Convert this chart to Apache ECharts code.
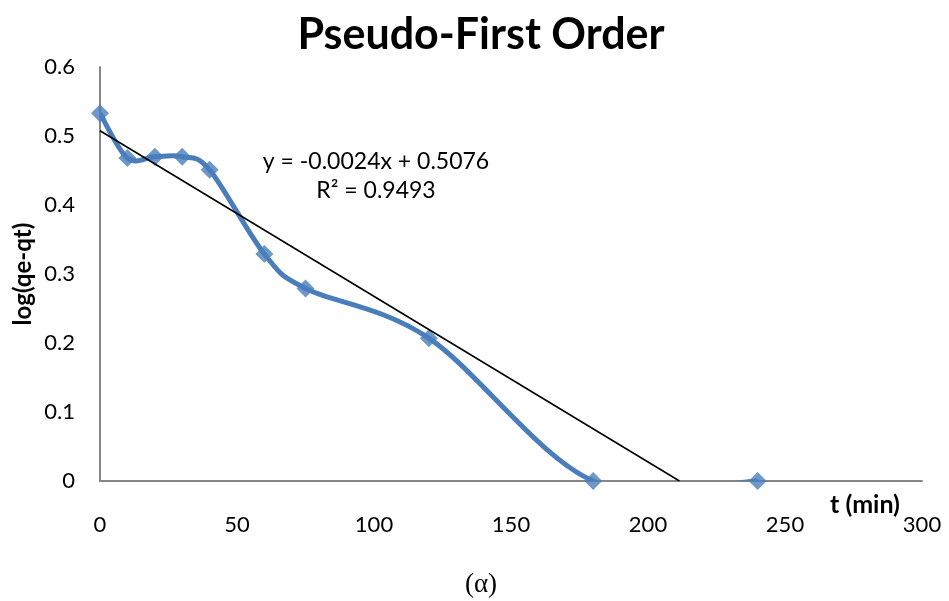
<!DOCTYPE html>
<html>
<head>
<meta charset="utf-8">
<script src="https://cdn.jsdelivr.net/npm/echarts@6/dist/echarts.min.js"></script>
<style>
  html, body { margin: 0; padding: 0; background: #fff; }
  #chart { width: 949px; height: 601px; }
</style>
</head>
<body>
<div id="chart"></div>
<script>
// Kinetic data: time (min) vs log(qe - qt)
const timeMin = [0, 10, 20, 30, 40, 60, 75, 120, 180, 240];
const logQeQt = [0.533, 0.468, 0.470, 0.470, 0.451, 0.329, 0.279, 0.207, 0, 0];

// Linear fit of the data
const fitSlope = -0.0024;
const fitIntercept = 0.5076;
const fitR2 = 0.9493;

// Axis tick values
const xTicks = [0, 50, 100, 150, 200, 250, 300];
const yTicks = [0, 0.1, 0.2, 0.3, 0.4, 0.5, 0.6];

const pointData = timeMin.map((t, i) => [t, logQeQt[i]]);
// Fit line runs from t = 0 to where it crosses zero
const fitEnd = -fitIntercept / fitSlope;
const fitData = [[0, fitIntercept], [fitEnd, fitSlope * fitEnd + fitIntercept]];

const font = 'Lato, "Open Sans", sans-serif';
const blue = '#4A7EBB';

// Smoothed curve through the data: Catmull-Rom spline turned into cubic
// Bezier segments, computed in pixel space from the axis-mapped points.
function renderSmoothCurve(params, api) {
  if (params.dataIndex !== 0) return null;
  const pts = pointData.map(p => api.coord(p));
  const n = pts.length;
  let d = 'M' + pts[0][0] + ' ' + pts[0][1];
  for (let i = 0; i < n - 1; i++) {
    const p0 = pts[Math.max(i - 1, 0)];
    const p1 = pts[i];
    const p2 = pts[i + 1];
    const p3 = pts[Math.min(i + 2, n - 1)];
    const c1x = p1[0] + (p2[0] - p0[0]) / 6;
    const c1y = p1[1] + (p2[1] - p0[1]) / 6;
    const c2x = p2[0] - (p3[0] - p1[0]) / 6;
    const c2y = p2[1] - (p3[1] - p1[1]) / 6;
    d += ' C' + c1x + ' ' + c1y + ' ' + c2x + ' ' + c2y + ' ' + p2[0] + ' ' + p2[1];
  }
  return {
    type: 'path',
    shape: { pathData: d },
    style: { fill: null, stroke: blue, lineWidth: 5, lineJoin: 'round', lineCap: 'butt' }
  };
}

const chart = echarts.init(document.getElementById('chart'), null, { renderer: 'canvas' });

chart.setOption({
  backgroundColor: '#ffffff',
  animation: false,
  grid: { left: 100, right: 27, top: 67, bottom: 120 },
  xAxis: {
    type: 'value',
    min: xTicks[0],
    max: xTicks[xTicks.length - 1],
    interval: 50,
    axisLine: { show: true, lineStyle: { color: '#868686', width: 2 } },
    axisTick: { show: false },
    splitLine: { show: false },
    axisLabel: { margin: 33, fontFamily: font, fontSize: 22, color: '#000' }
  },
  yAxis: {
    type: 'value',
    min: yTicks[0],
    max: yTicks[yTicks.length - 1],
    interval: 0.1,
    axisLine: { show: true, lineStyle: { color: '#868686', width: 2 } },
    axisTick: { show: false },
    splitLine: { show: false },
    axisLabel: { margin: 25, fontFamily: font, fontSize: 22, color: '#000' }
  },
  graphic: [
    {
      type: 'text',
      x: 481, y: 35,
      style: {
        text: 'Pseudo-First Order',
        font: 'bold 43px ' + font, fill: '#000', align: 'center', verticalAlign: 'middle'
      }
    },
    {
      type: 'text',
      x: 23, y: 274, rotation: Math.PI / 2,
      style: {
        text: 'log(qe-qt)',
        font: 'bold 24px ' + font, fill: '#000', align: 'center', verticalAlign: 'middle'
      }
    },
    {
      type: 'text',
      x: 865, y: 505,
      style: {
        text: 't (min)',
        font: 'bold 25px ' + font, fill: '#000', align: 'center', verticalAlign: 'middle'
      }
    },
    {
      type: 'text',
      x: 376, y: 162,
      style: {
        text: 'y = ' + fitSlope.toFixed(4) + 'x + ' + fitIntercept.toFixed(4),
        font: '23px ' + font, fill: '#000', align: 'center', verticalAlign: 'middle'
      }
    },
    {
      type: 'text',
      x: 376, y: 191,
      style: {
        text: 'R² = ' + fitR2.toFixed(4),
        font: '23px ' + font, fill: '#000', align: 'center', verticalAlign: 'middle'
      }
    },
    {
      type: 'text',
      x: 481, y: 585,
      style: {
        text: '(α)',
        font: '27px "Liberation Serif", "DejaVu Serif", serif', fill: '#000',
        align: 'center', verticalAlign: 'middle'
      }
    }
  ],
  series: [
    {
      name: 'log(qe-qt) curve',
      type: 'custom',
      data: pointData,
      clip: true,
      renderItem: renderSmoothCurve,
      z: 2
    },
    {
      name: 'log(qe-qt)',
      type: 'scatter',
      data: pointData,
      clip: false,
      symbol: 'diamond',
      symbolSize: 18,
      itemStyle: { color: blue },
      z: 3
    },
    {
      name: 'Linear fit',
      type: 'line',
      data: fitData,
      symbol: 'none',
      lineStyle: { color: '#000', width: 1.5 },
      z: 4
    }
  ]
});
</script>
</body>
</html>
